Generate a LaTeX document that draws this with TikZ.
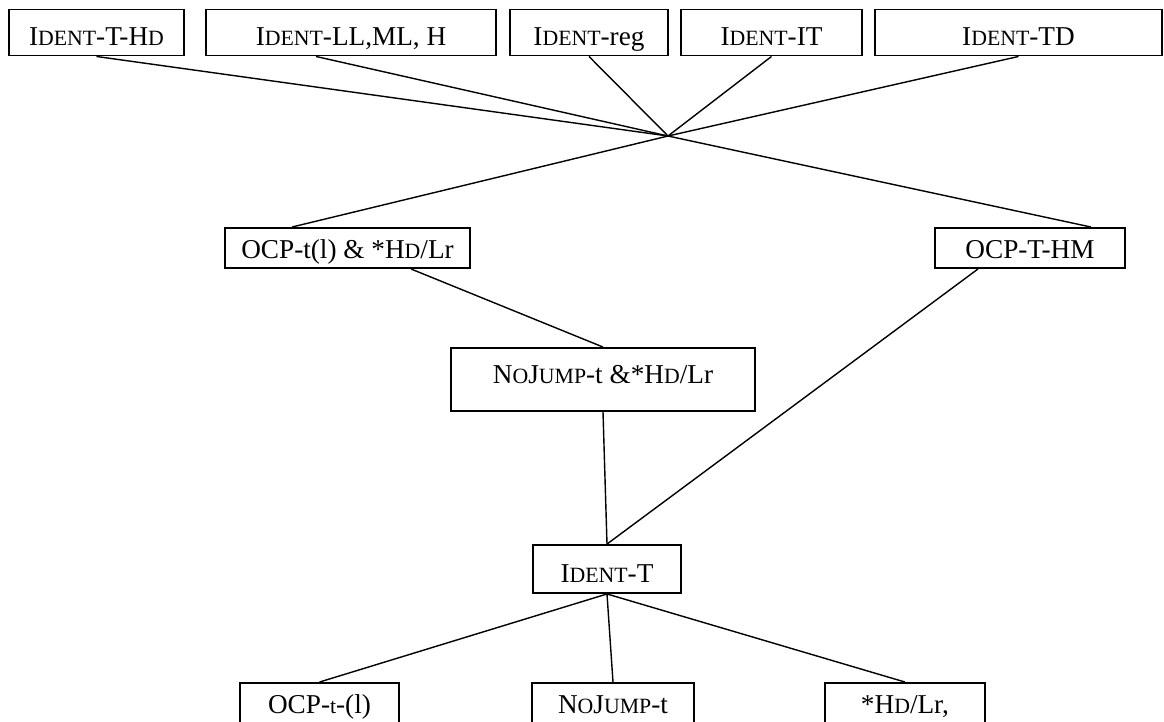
\documentclass[tikz,border=0pt]{standalone}
\usepackage{fontspec}
\setmainfont{Liberation Serif}
\newcommand{\smc}[1]{{\fontsize{12.4}{12.4}\selectfont #1}}

\begin{document}
\begin{tikzpicture}[
    box/.style={draw, line width=1.1pt, fill=white, inner sep=0pt, font=\fontsize{15.5}{18}\selectfont,
        text height=16pt, text depth=1.2pt},
    link/.style={line width=0.8pt}
]

    \clip (0,0) rectangle (23.28,-14.42);

    % Vincoli di fedelta in alto
    \node[box, minimum width=3.5cm, minimum height=0.92cm] (identthd) at (1.93,-0.65) {I\smc{DENT}-T-H\smc{D}};
    \node[box, minimum width=5.8cm, minimum height=0.92cm] (identll) at (7.02,-0.65) {I\smc{DENT}-LL,ML, H};
    \node[box, minimum width=3.16cm, minimum height=0.92cm] (identreg) at (11.78,-0.65) {I\smc{DENT}-reg};
    \node[box, minimum width=3.62cm, minimum height=0.92cm] (identit) at (15.43,-0.65) {I\smc{DENT}-IT};
    \node[box, minimum width=5.74cm, minimum height=0.92cm] (identtd) at (20.37,-0.65) {I\smc{DENT}-TD};

    \coordinate (x) at (13.36,-2.72);

    % Livello intermedio
    \node[box, minimum width=4.9cm, minimum height=0.8cm, text height=13pt] (ocpthd) at (6.95,-4.96) {OCP-t(l) \& *H\smc{D}/Lr};
    \node[box, minimum width=3.8cm, minimum height=0.8cm, text height=13pt] (ocpthm) at (20.6,-4.96) {OCP-T-HM};
    \node[box, minimum width=6.08cm, minimum height=1.26cm, text height=11pt, text depth=7pt] (nojump) at (12.06,-7.59) {N\smc{O}J\smc{UMP}-t \&*H\smc{D}/Lr};
    \node[box, minimum width=2.96cm, minimum height=0.96cm] (identt) at (12.14,-11.38) {I\smc{DENT}-T};

    % Vincoli in basso
    \node[box, minimum width=3.18cm, minimum height=0.92cm, text height=10pt, text depth=1pt] (ocpt) at (6.39,-14.12) {OCP-\smc{t}-(l)};
    \node[box, minimum width=3.24cm, minimum height=0.92cm, text height=10pt, text depth=1pt] (nojumpt) at (12.26,-14.12) {N\smc{O}J\smc{UMP}-t};
    \node[box, minimum width=3.2cm, minimum height=0.92cm, text height=10pt, text depth=1pt] (hdlr) at (18.1,-14.12) {*H\smc{D}/Lr,};

    % Collegamenti
    \foreach \n in {identthd,identreg,identit,identtd} {
        \draw[link] (\n.south) -- (x);
    }
    \draw[link] ([xshift=-0.7cm]identll.south) -- (x);
    \draw[link] (x) -- ([xshift=-1.11cm]ocpthd.north);
    \draw[link] (x) -- ([xshift=1.22cm]ocpthm.north);
    \draw[link] ([xshift=1.27cm]ocpthd.south) -- (nojump.north);
    \draw[link] (nojump.south) -- (identt.north);
    \draw[link] ([xshift=-1.04cm]ocpthm.south) -- (identt.north);
    \foreach \n in {ocpt,nojumpt,hdlr} {
        \draw[link] (identt.south) -- (\n.north);
    }

\end{tikzpicture}
\end{document}
